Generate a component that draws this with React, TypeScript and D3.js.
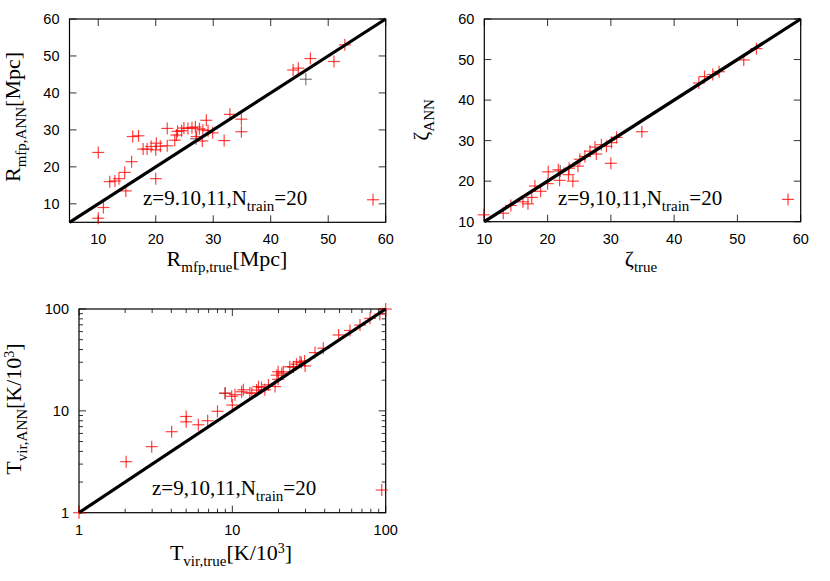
import React from "react";
import * as d3 from "d3";

// Panel 1: R_mfp
const rTrue = [10, 10, 10.9, 12, 12.9, 13.6, 14.6, 14.8, 15.8, 16, 17, 17.8, 18.5, 19.2, 20, 20.1, 20, 20.8, 22, 22, 23.3, 23.6, 23.8, 24.5, 24.9, 25.6, 26.3, 26.9, 27.1, 27.6, 28.2, 28.1, 28.8, 29.1, 29.9, 31.9, 32.9, 34.9, 34.9, 43.9, 44.8, 46.9, 51, 52.9, 57.8];
const rAnn = [23.9, 6.1, 9, 16, 16.2, 16.8, 18.5, 13.5, 21.4, 28.2, 28.4, 24.8, 24.8, 25.5, 24.6, 26.4, 16.8, 25.6, 25.7, 30.4, 27.2, 28.6, 29.6, 29.8, 30.5, 30.4, 30.6, 30.8, 28.2, 30.3, 30, 27, 32.6, 29.8, 29.2, 27.1, 34.2, 32.9, 29.5, 46.2, 46.7, 49.3, 48.5, 53, 11.1];
const rTrueGray = [46.1, 27];
const rAnnGray = [43.7, 27.6];

// Panel 2: zeta
const zTrue = [9.9, 13, 14.2, 16.1, 16.9, 17.5, 18, 18.9, 20, 20.1, 21.7, 21.9, 23.3, 23.4, 24, 24.8, 25.1, 25.9, 26.7, 27.5, 27.7, 28.5, 29.3, 30.1, 30, 30.9, 34.9, 43.9, 44.8, 46.1, 47.1, 51, 53, 58];
const zAnn = [11.7, 12.1, 14, 14.9, 14.4, 16, 18.8, 17.5, 19.4, 22.3, 22.8, 20.2, 21.6, 23.2, 20, 23.7, 25.4, 26.1, 27.4, 28.4, 26.7, 29, 28.6, 29.5, 24.4, 30.8, 32.2, 44.2, 45.8, 46.3, 47, 49.9, 52.7, 15.5];
const zTrueGray = [22];
const zAnnGray = [22.5];

// Panel 3: T_vir (log)
const tTrue = [1, 2.03, 2.98, 4.02, 5, 5, 6, 6.9, 8, 8.97, 9.9, 10, 10.4, 11.5, 11.8, 13, 13.4, 14.4, 14.8, 15.5, 16.3, 17.2, 19, 19.5, 19.9, 19.9, 21, 21.5, 23.7, 25, 26.2, 27.6, 28.2, 29.8, 29.6, 34.6, 39.2, 49.3, 58.5, 68, 79, 91.6, 100, 94.2];
const tAnn = [1, 3.17, 4.45, 6.24, 8.8, 7.8, 7.3, 8, 9.9, 14.9, 13.9, 11.4, 14.4, 15.4, 16.1, 15, 14.9, 16, 17.3, 17, 16.1, 18, 17.3, 22.4, 20.4, 24.2, 23.4, 24.2, 27.1, 27, 28.7, 30.4, 29.8, 27.6, 30.9, 37.3, 41.2, 55.6, 61.5, 69.6, 81, 89, 100, 1.67];
const tTrueGray = [8.97, 25];
const tAnnGray = [14.9, 27];

const linTicks = [10, 20, 30, 40, 50, 60];
const logTicks = [1, 10, 100];

const SANS = "Liberation Sans, Arial, sans-serif";
const SERIF = "Liberation Serif, Times New Roman, serif";
const RED = "#ff0000";

type Panel = {
  x: any;
  y: any;
  log: boolean;
  xTicks: number[];
  yTicks: number[];
  xs: number[];
  ys: number[];
  gx: number[];
  gy: number[];
  diag: [number, number];
};

function Cross({ cx, cy, color, op }: { cx: number; cy: number; color: string; op: number }) {
  const s = 6;
  return (
    <g stroke={color} strokeOpacity={op} strokeWidth={1.2}>
      <line x1={cx - s} x2={cx + s} y1={cy} y2={cy} />
      <line x1={cx} x2={cx} y1={cy - s} y2={cy + s} />
    </g>
  );
}

function PanelView({ p }: { p: Panel }) {
  const [x0, x1] = p.x.range();
  const [y0, y1] = p.y.range();
  const tk = 7;
  const minor: number[] = [];
  if (p.log) {
    for (const dec of [1, 10]) for (let k = 2; k <= 9; k++) minor.push(dec * k);
  }
  const tickStroke = "#333";
  const fs = 14.5;
  return (
    <g>
      {p.xTicks.map((t) => (
        <g key={"xt" + t} stroke={tickStroke} strokeWidth={1}>
          <line x1={p.x(t)} x2={p.x(t)} y1={y0} y2={y0 - tk} />
          <line x1={p.x(t)} x2={p.x(t)} y1={y1} y2={y1 + tk} />
        </g>
      ))}
      {p.yTicks.map((t) => (
        <g key={"yt" + t} stroke={tickStroke} strokeWidth={1}>
          <line x1={x0} x2={x0 + tk} y1={p.y(t)} y2={p.y(t)} />
          <line x1={x1} x2={x1 - tk} y1={p.y(t)} y2={p.y(t)} />
        </g>
      ))}
      {minor.map((t) => (
        <g key={"m" + t} stroke={tickStroke} strokeWidth={1}>
          <line x1={p.x(t)} x2={p.x(t)} y1={y0} y2={y0 - 4} />
          <line x1={p.x(t)} x2={p.x(t)} y1={y1} y2={y1 + 4} />
          <line x1={x0} x2={x0 + 4} y1={p.y(t)} y2={p.y(t)} />
          <line x1={x1} x2={x1 - 4} y1={p.y(t)} y2={p.y(t)} />
        </g>
      ))}
      {p.xTicks.map((t) => (
        <text key={"xl" + t} x={p.x(t)} y={y0 + 22} textAnchor="middle" fontFamily={SANS} fontSize={fs} fill="#000">
          {t}
        </text>
      ))}
      {p.yTicks.map((t) => (
        <text key={"yl" + t} x={x0 - 10} y={p.y(t) + 5} textAnchor="end" fontFamily={SANS} fontSize={fs} fill="#000">
          {t}
        </text>
      ))}
      <rect x={x0} y={y1} width={x1 - x0} height={y0 - y1} fill="none" stroke="#000" strokeWidth={1.2} />
      {p.gx.map((v, i) => (
        <Cross key={"g" + i} cx={p.x(v)} cy={p.y(p.gy[i])} color="#555" op={0.8} />
      ))}
      {p.xs.map((v, i) => (
        <Cross key={"r" + i} cx={p.x(v)} cy={p.y(p.ys[i])} color={RED} op={0.75} />
      ))}
      <line
        x1={p.x(p.diag[0])}
        y1={p.y(p.diag[0])}
        x2={p.x(p.diag[1])}
        y2={p.y(p.diag[1])}
        stroke="#000"
        strokeWidth={3.2}
      />
    </g>
  );
}

export default function App() {
  const p1: Panel = {
    x: d3.scaleLinear().domain([5, 60]).range([69.5, 385.7]),
    y: d3.scaleLinear().domain([5, 60]).range([222.3, 19]),
    log: false,
    xTicks: linTicks,
    yTicks: linTicks,
    xs: rTrue,
    ys: rAnn,
    gx: rTrueGray,
    gy: rAnnGray,
    diag: [5, 60],
  };
  const p2: Panel = {
    x: d3.scaleLinear().domain([10, 60]).range([484.3, 800.7]),
    y: d3.scaleLinear().domain([10, 60]).range([221.7, 19]),
    log: false,
    xTicks: linTicks,
    yTicks: linTicks,
    xs: zTrue,
    ys: zAnn,
    gx: zTrueGray,
    gy: zAnnGray,
    diag: [10, 60],
  };
  const p3: Panel = {
    x: d3.scaleLog().domain([1, 100]).range([79, 385.7]),
    y: d3.scaleLog().domain([1, 100]).range([512.7, 309]),
    log: true,
    xTicks: logTicks,
    yTicks: logTicks,
    xs: tTrue,
    ys: tAnn,
    gx: tTrueGray,
    gy: tAnnGray,
    diag: [1, 100],
  };

  const lab = { fontFamily: SERIF, fontSize: 22, fill: "#000" };
  const sub = 15;
  const ann = { fontFamily: SERIF, fontSize: 21, fill: "#000" };

  return (
    <svg width={830} height={581} style={{ position: "absolute", left: 0, top: 0, background: "#fff" }}>
      <rect x={0} y={0} width={830} height={581} fill="#fff" />
      <PanelView p={p1} />
      <PanelView p={p2} />
      <PanelView p={p3} />

      <text x={227} y={266} textAnchor="middle" {...lab}>
        R<tspan dy={6} fontSize={sub}>mfp,true</tspan>
        <tspan dy={-6}>[Mpc]</tspan>
      </text>
      <text transform="translate(20,117) rotate(-90)" textAnchor="middle" {...lab}>
        R<tspan dy={6} fontSize={sub}>mfp,ANN</tspan>
        <tspan dy={-6}>[Mpc]</tspan>
      </text>
      <text x={143} y={205} {...ann}>
        z=9.10,11,N<tspan dy={6} fontSize={sub}>train</tspan>
        <tspan dy={-6}>=20</tspan>
      </text>

      <text x={641} y={266} textAnchor="middle" {...lab}>
        ζ<tspan dy={6} fontSize={sub}>true</tspan>
      </text>
      <text transform="translate(428,120) rotate(-90)" textAnchor="middle" {...lab}>
        ζ<tspan dy={6} fontSize={sub}>ANN</tspan>
      </text>
      <text x={558} y={205} {...ann}>
        z=9,10,11,N<tspan dy={6} fontSize={sub}>train</tspan>
        <tspan dy={-6}>=20</tspan>
      </text>

      <text x={231} y={560} textAnchor="middle" {...lab}>
        T<tspan dy={6} fontSize={sub}>vir,true</tspan>
        <tspan dy={-6}>[K/10</tspan>
        <tspan dy={-7} fontSize={14}>3</tspan>
        <tspan dy={7}>]</tspan>
      </text>
      <text transform="translate(21,409) rotate(-90)" textAnchor="middle" {...lab}>
        T<tspan dy={6} fontSize={sub}>vir,ANN</tspan>
        <tspan dy={-6}>[K/10</tspan>
        <tspan dy={-7} fontSize={14}>3</tspan>
        <tspan dy={7}>]</tspan>
      </text>
      <text x={152} y={495} {...ann}>
        z=9,10,11,N<tspan dy={6} fontSize={sub}>train</tspan>
        <tspan dy={-6}>=20</tspan>
      </text>
    </svg>
  );
}
